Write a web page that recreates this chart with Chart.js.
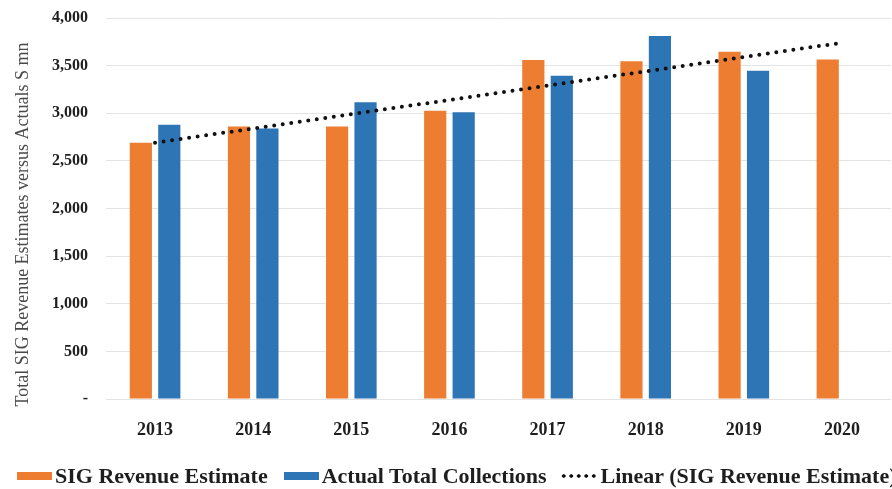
<!DOCTYPE html>
<html>
<head>
<meta charset="utf-8">
<script src="https://cdn.jsdelivr.net/npm/chart.js@4/dist/chart.umd.min.js"></script>
<style>
  html, body { margin: 0; padding: 0; background: #fff; overflow: hidden; }
  #wrap { position: relative; width: 892px; height: 489px; overflow: hidden; }
  #legend {
    position: absolute; left: 17px; top: 463px; height: 26px;
    display: flex; align-items: center; white-space: nowrap;
    font-family: "Liberation Serif", "Times New Roman", serif;
    font-weight: bold; font-size: 22px; color: #1e1e1e;
  }
  .item { display: flex; align-items: center; }
  .box { width: 35px; height: 8px; margin-right: 3px; }
  .dots {
    width: 38px; height: 6px; margin-right: 3px;
    background-image: radial-gradient(circle, #111 1.5px, transparent 2px);
    background-size: 7.5px 6px; background-position: 0 0;
  }
</style>
</head>
<body>
<div id="wrap">
  <canvas id="chart" width="892" height="489"></canvas>
  <div id="legend"></div>
</div>
<script>
// Fiscal years on the category axis
const years = ['2013', '2014', '2015', '2016', '2017', '2018', '2019', '2020'];
// SIG revenue estimate, $ mn
const sigEstimate = [2690, 2860, 2860, 3025, 3560, 3545, 3645, 3565];
// Actual total collections, $ mn (no actuals yet for 2020)
const actualCollections = [2880, 2840, 3115, 3010, 3395, 3810, 3445, null];
// Linear trend of the estimate, first and last year
const trendEstimate = [2690, null, null, null, null, null, null, 3740];
// Value axis
const yTicks = [0, 500, 1000, 1500, 2000, 2500, 3000, 3500, 4000];

const seriesNames = ['SIG Revenue Estimate', 'Actual Total Collections', 'Linear (SIG Revenue Estimate)'];
const yTitle = 'Total SIG Revenue Estimates versus Actuals S mn';
const ORANGE = '#ED7D31';
const BLUE = '#2E75B6';
const SERIF = '"Liberation Serif", "Times New Roman", serif';

// Rotated value-axis title, set a little below the plot's mid-height
const yTitlePlugin = {
  id: 'yTitle',
  afterDraw(chart) {
    const { ctx, chartArea } = chart;
    ctx.save();
    ctx.translate(23, (chartArea.top + chartArea.bottom) / 2 + 16);
    ctx.rotate(-Math.PI / 2);
    ctx.font = '18px ' + SERIF;
    ctx.fillStyle = '#4a4a4a';
    ctx.textAlign = 'center';
    ctx.textBaseline = 'middle';
    ctx.fillText(yTitle, 0, 0);
    ctx.restore();
  }
};

const ctx = document.getElementById('chart').getContext('2d');
new Chart(ctx, {
  data: {
    labels: years,
    datasets: [
      {
        type: 'bar', label: seriesNames[0], data: sigEstimate,
        backgroundColor: ORANGE, order: 1,
        categoryPercentage: 0.58, barPercentage: 0.78
      },
      {
        type: 'bar', label: seriesNames[1], data: actualCollections,
        backgroundColor: BLUE, order: 1,
        categoryPercentage: 0.58, barPercentage: 0.78
      },
      {
        type: 'line', label: seriesNames[2], data: trendEstimate,
        spanGaps: true, borderColor: '#111', borderWidth: 4,
        borderCapStyle: 'round', borderDash: [0, 8.6],
        pointRadius: 0, fill: false, tension: 0, order: 0
      }
    ]
  },
  options: {
    responsive: false,
    animation: false,
    devicePixelRatio: 1,
    layout: { padding: { left: 0, right: 1, top: 0, bottom: 0 } },
    plugins: {
      legend: { display: false },
      tooltip: { enabled: false }
    },
    scales: {
      x: {
        grid: { display: false },
        border: { display: false },
        ticks: {
          color: '#1e1e1e', padding: 13,
          font: { family: SERIF, size: 18, weight: 'bold' }
        },
        afterFit: (s) => { s.height = 90; }
      },
      y: {
        min: yTicks[0], max: yTicks[yTicks.length - 1],
        afterBuildTicks: (s) => { s.ticks = yTicks.map(v => ({ value: v })); },
        grid: { color: '#e3e3e3', lineWidth: 1, drawTicks: false },
        border: { display: false },
        ticks: {
          color: '#1e1e1e', padding: 18,
          font: { family: SERIF, size: 16, weight: 'bold' },
          callback: (v) => v === 0 ? '-' : Number(v).toLocaleString('en-US')
        },
        afterFit: (s) => { s.width = 106; s.paddingTop = 18; s.paddingBottom = 0; }
      }
    }
  },
  plugins: [yTitlePlugin]
});

// Legend row under the chart
const legend = document.getElementById('legend');
const marks = [
  '<span class="box" style="background:' + ORANGE + '"></span>',
  '<span class="box" style="background:' + BLUE + '"></span>',
  '<span class="dots"></span>'
];
const gaps = [16, 13, 0];
seriesNames.forEach((name, i) => {
  const item = document.createElement('span');
  item.className = 'item';
  item.style.marginRight = gaps[i] + 'px';
  item.innerHTML = marks[i] + '<span>' + name + '</span>';
  legend.appendChild(item);
});
</script>
</body>
</html>
